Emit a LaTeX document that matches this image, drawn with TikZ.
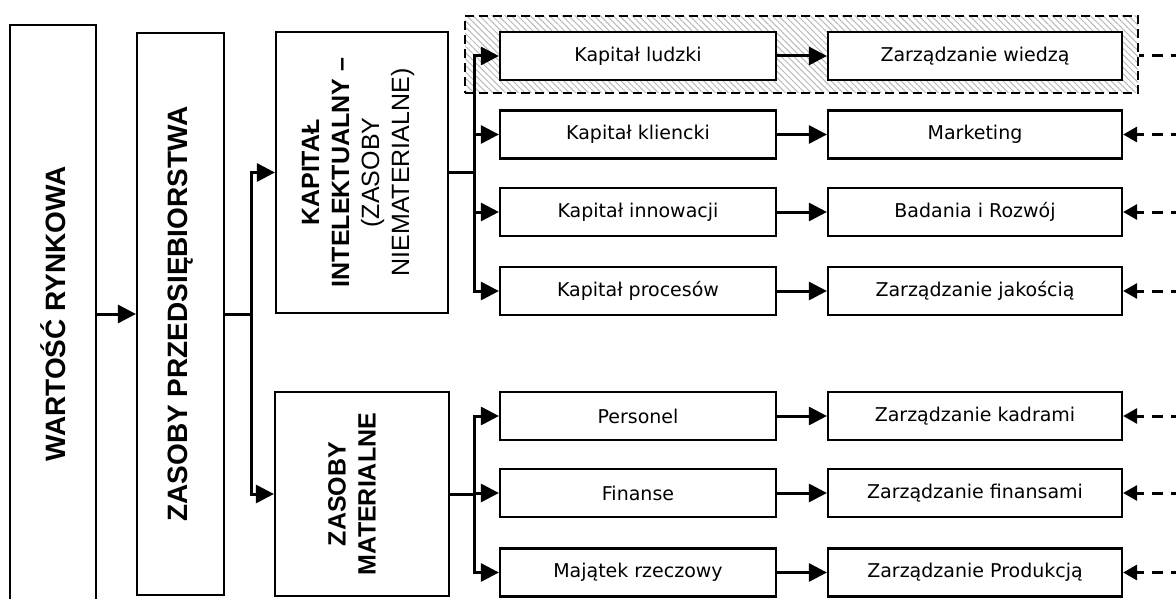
\documentclass[tikz,border=0pt]{standalone}
\usepackage{fontspec}
\setmainfont{DejaVu Sans}
\newfontfamily\arialfont{Liberation Sans}
\usetikzlibrary{arrows.meta,patterns.meta}
\begin{document}
\begin{tikzpicture}[x=1pt,y=-1pt,
  bigbox/.style={draw, line width=2.2pt, fill=white, inner sep=0pt},
  box/.style={bigbox, minimum height=48pt, font=\fontsize{19}{22}\selectfont},
  cone/.style={box, minimum width=276pt},
  ctwo/.style={box, minimum width=294pt},
  vtext/.style={rotate=90, inner sep=0pt, font=\arialfont\bfseries\fontsize{28}{34}\selectfont},
  mtext/.style={rotate=90, inner sep=0pt, align=center, font=\arialfont\fontsize{25}{30}\selectfont},
  conn/.style={line width=3pt},
  arr/.style={conn, -{Triangle[length=18pt,width=18pt]}},
  darr/.style={line width=3pt, dash pattern=on 11pt off 8pt, -{Triangle[length=14pt,width=15pt]}},
  dline/.style={line width=3pt, dash pattern=on 11pt off 8pt},
  hilite/.style={draw, line width=2pt, dash pattern=on 9pt off 5pt, inner sep=0pt,
    pattern={Lines[angle=-45,distance=4.5pt,line width=1pt]}, pattern color=gray!55}
]
\useasboundingbox (0,0) rectangle (1176,599);
\clip (0,0) rectangle (1176,599);

% highlight region
\node[hilite, minimum width=673pt, minimum height=77pt] (hl) at (801.5,54.5) {};

% big boxes
\node[bigbox, minimum width=86pt, minimum height=578pt] (wr) at (53,314) {};
\node[vtext] (wrt) at (wr) {WARTOŚĆ RYNKOWA};
\node[bigbox, minimum width=87pt, minimum height=562pt] (zp) at (180.5,314) {};
\node[vtext] (zpt) at (zp) {ZASOBY PRZEDSIĘBIORSTWA};
\node[bigbox, minimum width=172pt, minimum height=281pt] (kap) at (362,172.5) {};
\node[mtext] (kapt) at (358,172.5) {\bfseries KAPITAŁ\\\bfseries INTELEKTUALNY –\\(ZASOBY\\NIEMATERIALNE)};
\node[bigbox, minimum width=174pt, minimum height=204pt] (mat) at (362,494) {};
\node[mtext, font=\arialfont\bfseries\fontsize{25}{30}\selectfont] (matt) at (352,494) {ZASOBY\\MATERIALNE};

% child boxes
\node[cone] (a1) at (638,56) {Kapitał ludzki};
\node[cone] (a2) at (638,134.5) {Kapitał kliencki};
\node[cone] (a3) at (638,212) {Kapitał innowacji};
\node[cone] (a4) at (638,291) {Kapitał procesów};
\node[cone] (a5) at (638,416) {Personel};
\node[cone] (a6) at (638,493) {Finanse};
\node[cone] (a7) at (638,572.5) {Majątek rzeczowy};

\node[ctwo] (b1) at (975,56) {Zarządzanie wiedzą};
\node[ctwo] (b2) at (975,134.5) {Marketing};
\node[ctwo] (b3) at (975,212) {Badania i Rozwój};
\node[ctwo] (b4) at (975,291) {Zarządzanie jakością};
\node[ctwo] (b5) at (975,416) {Zarządzanie kadrami};
\node[ctwo] (b6) at (975,493) {Zarządzanie finansami};
\node[ctwo] (b7) at (975,572.5) {Zarządzanie Produkcją};

% main connectors
\draw[arr] (wr.east |- zp.west) -- (zp.west);
\draw[conn] (zp.east) -- ++(26,0) coordinate (zb);
\draw[arr] (zb) |- (kap.west);
\draw[arr] (zb) |- (mat.west);

\draw[conn] (kap.east) -- ++(25,0) coordinate (kb);
\foreach \n in {a1,a2,a3,a4} \draw[arr] (kb) |- (\n.west);
\draw[conn] (mat.east) -- ++(24,0) coordinate (mb);
\foreach \n in {a5,a6,a7} \draw[arr] (mb) |- (\n.west);

\foreach \i in {1,...,7} \draw[arr] (a\i.east) -- (b\i.west);

% dashed inputs from the right
\coordinate (e1) at (1182,56);
\draw[dline] (e1) -- (e1 -| hl.east);
\foreach \i in {2,...,7} {
  \coordinate (e\i) at (b\i.east -| 1182,0);
  \draw[darr] (e\i) -- (b\i.east);
}
\end{tikzpicture}
\end{document}
